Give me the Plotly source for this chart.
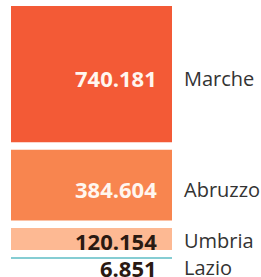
import plotly.graph_objects as go

regions = ["Marche", "Abruzzo", "Umbria", "Lazio"]
values = [740.181, 384.604, 120.154, 6.851]
value_labels = ["740.181", "384.604", "120.154", "6.851"]
colors = ["#F35A36", "#F8854F", "#FDB993", "#85CDD3"]
num_colors = ["#FFF6EF", "#FFF6EF", "#2A1A12", "#2A1A12"]

W, H = 261, 277
PX_PER_UNIT = 0.184          # vertical scale
GAP = 7.5 / PX_PER_UNIT      # gap between segments in data units
TOP_PAD = 6 / PX_PER_UNIT

bases = []
acc = 0.0
for v in values:
    bases.append(acc)
    acc += v + GAP

fig = go.Figure()
for r, v, b, c in zip(regions, values, bases, colors):
    fig.add_trace(go.Bar(x=[0], y=[v], base=[b], width=1, marker=dict(color=c, line=dict(width=0)),
                         name=r, showlegend=False, hoverinfo="skip"))

ann = []
for i, (r, v, b, lab, nc) in enumerate(zip(regions, values, bases, value_labels, num_colors)):
    hpx = v * PX_PER_UNIT
    if hpx > 10:
        yc = b + v / 2
        ys = -min(4.0, 0.07 * hpx)
    else:
        yc = b + v
        ys = -9
    ann.append(dict(x=0.5, y=yc, xref="x", yref="y", text="<b>%s</b>" % lab, showarrow=False,
                    xanchor="right", yanchor="middle", xshift=-13, yshift=ys,
                    font=dict(family="Open Sans", size=22, color=nc)))
    ann.append(dict(x=0.5, y=yc, xref="x", yref="y", text=r, showarrow=False,
                    xanchor="left", yanchor="middle", xshift=10, yshift=ys,
                    font=dict(family="Open Sans", size=20, color="#333333")))

px_unit_x = 161.0
fig.update_layout(
    width=W, height=H, margin=dict(l=0, r=0, t=0, b=0),
    paper_bgcolor="white", plot_bgcolor="white",
    barmode="overlay",
    xaxis=dict(range=[-0.5 - 11 / px_unit_x, 0.5 + (W - 172) / px_unit_x], visible=False, fixedrange=True),
    yaxis=dict(range=[(H - 6) / PX_PER_UNIT, -TOP_PAD], visible=False, fixedrange=True),
    annotations=ann,
)
fig.write_html("out.html", config={"displayModeBar": False},
               post_script="document.body.style.margin='0';document.body.style.overflow='hidden';")
